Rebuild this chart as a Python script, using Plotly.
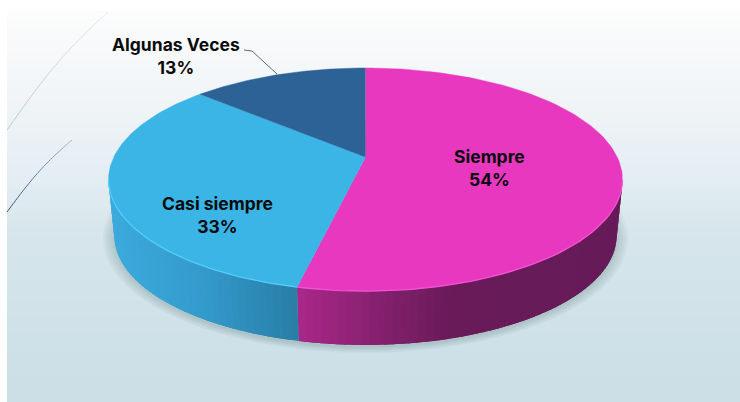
import numpy as np
import plotly.graph_objects as go

# chart data
labels = ['Siempre', 'Casi siempre', 'Algunas Veces']
values = [53.5, 33.1, 13.4]
pct_text = ['54%', '33%', '13%']
top_colors = ['#e838c0', '#3ab5e6', '#2c6296']
rim_colors = ['#f452d2', '#55cdf8', '#2c6296']

W, H = 740, 402

# perspective of the disc, in pixels
CX, CY = 365.5, 157
A, B, K = 251.7, 107, 0.2018
DEPTH, SHRINK = 57, 0.977


def project(theta, scale=1.0, drop=0.0):
    w = 1 + K * np.cos(theta)
    return (CX + scale * A * np.sin(theta) / w,
            CY + drop - scale * B * np.cos(theta) / w)


def mix(stops, x):
    xs = [s[0] for s in stops]
    return 'rgb(%d,%d,%d)' % tuple(np.interp(x, xs, [s[1][i] for s in stops]) for i in range(3))


fig = go.Figure()


def poly(xs, ys, color, line=0.6):
    fig.add_trace(go.Scatter(x=list(xs), y=list(ys), mode='lines', fill='toself', fillcolor=color,
                             line=dict(color=color, width=line), hoverinfo='skip', showlegend=False))


# background gradient
bg_stops = [(11, (252, 253, 253)), (100, (241, 245, 247)), (175, (229, 238, 244)),
            (235, (214, 230, 236)), (300, (210, 227, 233)), (402, (203, 223, 231))]
shapes = []
for y0 in range(11, 402, 4):
    shapes.append(dict(type='rect', xref='x', yref='y', x0=7, x1=W, y0=y0, y1=y0 + 4, layer='below',
                       fillcolor=mix(bg_stops, y0 + 2), line=dict(width=0)))

# the two thin arcs on the left, fading towards the top
arc_t = np.linspace(0, 1, 31)
arcs = [(7, 130, 108, 12, -8, (190, 200, 205), (232, 238, 241)),
        (7, 212, 72, 140, -5, (50, 85, 110), (175, 190, 200))]
for (x0, y0, x1, y1, bend, c0, c1) in arcs:
    xa = x0 + (x1 - x0) * arc_t
    ya = y0 + (y1 - y0) * arc_t + bend * np.sin(np.pi * arc_t)
    for j in range(len(arc_t) - 1):
        fig.add_trace(go.Scatter(x=xa[j:j + 2], y=ya[j:j + 2], mode='lines',
                                 line=dict(color=mix([(0, c0), (1, c1)], arc_t[j]), width=1),
                                 hoverinfo='skip', showlegend=False))

# soft shadow under the disc
all_t = np.linspace(0, 2 * np.pi, 181)
for grow in [1.045, 1.035, 1.025, 1.015, 1.005]:
    sx, sy = project(all_t, SHRINK * grow, DEPTH + 2)
    poly(sx, np.minimum(sy, 355), 'rgba(90,115,125,0.06)', line=0)

# slice edges, clockwise from the top
fractions = np.cumsum([0] + values) / sum(values)
angles = fractions * 2 * np.pi
edge = np.arccos(-K)  # where the outline turns from back to front

side_stops = [
    [(302, (168, 40, 136)), (380, (133, 33, 110)), (450, (106, 27, 90)), (622, (102, 27, 88))],
    [(112, (60, 170, 220)), (200, (52, 155, 205)), (302, (40, 125, 165))],
]
# strips overlap the next one so no seams show
for i, stops in enumerate(side_stops):
    start = max(angles[i], edge)
    stop = min(angles[i + 1], 2 * np.pi - edge)
    grid = np.linspace(start, stop, int((stop - start) / np.radians(1.5)) + 2)
    step = grid[1] - grid[0]
    for a0 in grid[:-1]:
        seg = np.array([a0, min(a0 + 2.2 * step, stop)])
        tx, ty = project(seg)
        bx, by = project(seg[::-1], SHRINK, DEPTH)
        poly(np.r_[tx, bx], np.r_[ty, by], mix(stops, project(a0 + step / 2)[0]), line=0)

# top of the pie
for i in range(len(values)):
    t = np.linspace(angles[i], angles[i + 1], 120)
    px, py = project(t)
    poly(np.r_[CX, px], np.r_[CY, py], top_colors[i], line=0.4)
    # light rim on the front edge
    front = t[(t > edge) & (t < 2 * np.pi - edge)]
    if len(front):
        rx, ry = project(front)
        fig.add_trace(go.Scatter(x=rx, y=ry, mode='lines', line=dict(color=rim_colors[i], width=1.3),
                                 hoverinfo='skip', showlegend=False))

# leader line of the small slice
leader_x = [244, 252, 277]
leader_y = [50, 51, 74]
fig.add_trace(go.Scatter(x=leader_x, y=leader_y, mode='lines', line=dict(color='#5f6a70', width=1),
                         hoverinfo='skip', showlegend=False))

label_x = [489, 217, 176]
label_y = [168, 215, 56]
for name, pct, lx, ly in zip(labels, pct_text, label_x, label_y):
    fig.add_annotation(x=lx, y=ly, text=name + '<br>' + pct, showarrow=False, xref='x', yref='y',
                       font=dict(family='Inter', size=17.5, color='#0b0b0b', weight='bold'), align='center')

fig.update_layout(
    width=W, height=H, margin=dict(l=0, r=0, t=0, b=0), autosize=False,
    paper_bgcolor='white', plot_bgcolor='white', showlegend=False, shapes=shapes,
    xaxis=dict(range=[0, W], visible=False, fixedrange=True),
    yaxis=dict(range=[H, 0], visible=False, fixedrange=True),
)
fig.write_html("out.html", config=dict(displayModeBar=False),
               post_script="document.body.style.margin='0';document.body.style.overflow='hidden';")
